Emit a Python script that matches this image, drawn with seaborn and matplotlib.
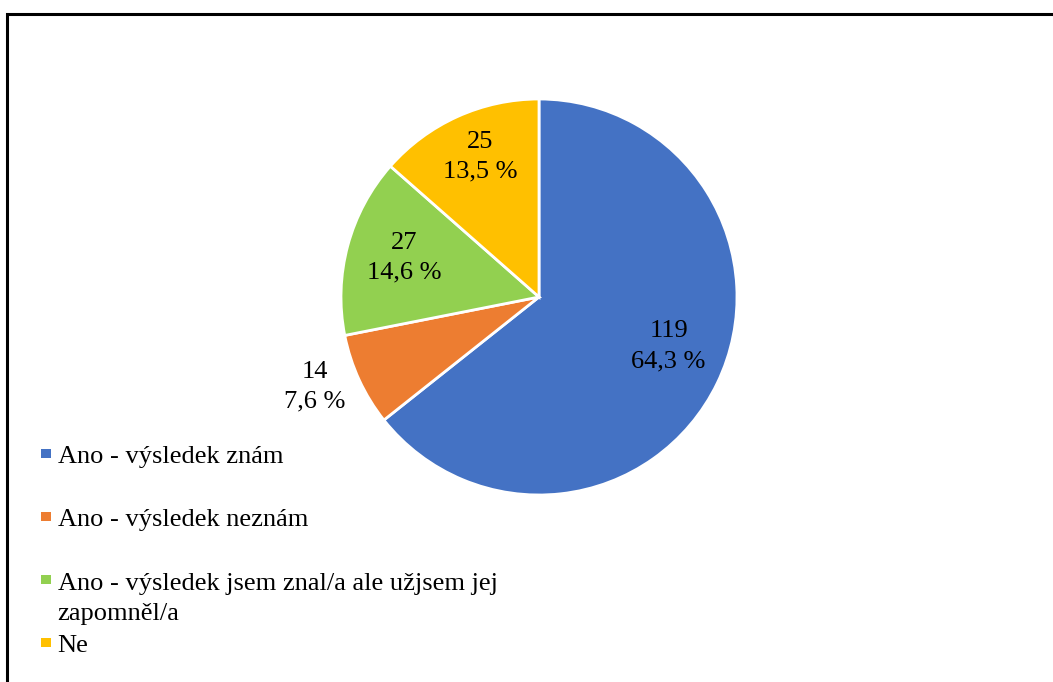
import numpy as np
import matplotlib
matplotlib.use("Agg")
import matplotlib.pyplot as plt
from matplotlib.patches import Rectangle
import seaborn as sns

categories = ["Ano - výsledek znám", "Ano - výsledek neznám",
              "Ano - výsledek jsem znal/a ale užjsem jej\nzapomněl/a", "Ne"]
counts = [119, 14, 27, 25]
percents = ["64,3 %", "7,6 %", "14,6 %", "13,5 %"]
colors = ["#4472C4", "#ED7D31", "#92D050", "#FFC000"]

sns.set_theme(style="white")
plt.rcParams['font.family'] = ['Liberation Serif', 'DejaVu Serif']

W, H = 1053, 682
fig = plt.figure(figsize=(W / 100, H / 100), dpi=100)
fig.patch.set_facecolor("white")

cx, cy, r = 539, 297, 198
ax = fig.add_axes([(cx - r) / W, (H - cy - r) / H, 2 * r / W, 2 * r / H])
wedges, _ = ax.pie(counts, colors=colors, startangle=90, counterclock=False,
                   wedgeprops=dict(edgecolor="white", linewidth=2))
ax.set_xlim(-1, 1)
ax.set_ylim(-1, 1)
ax.set_aspect("equal")
ax.axis("off")

label_dist = [0.70, 1.22, 0.71, 0.77]
angle_adj = [5, -3, -1, -1.5]
for w, n, p, d, da in zip(wedges, counts, percents, label_dist, angle_adj):
    th = np.deg2rad((w.theta1 + w.theta2) / 2 + da)
    ax.text(d * np.cos(th), d * np.sin(th), f"{n}\n{p}", ha="center", va="center",
            fontsize=19, color="black", linespacing=1.45, clip_on=False)

# legend (manual, Excel-like)
sq_centers = [453, 516, 579, 642.5]
line_px = 31
for c, lab, yc in zip(colors, categories, sq_centers):
    fig.add_artist(Rectangle((41 / W, (H - yc - 4.5) / H), 9.5 / W, 9 / H,
                             transform=fig.transFigure, facecolor=c, edgecolor="none"))
    nl = lab.count("\n")
    fig.text(57.5 / W, (H - yc - 9.7 - nl * line_px) / H, lab, ha="left", va="baseline",
             fontsize=19, color="black", linespacing=1.45)

# border
fig.add_artist(Rectangle((7 / W, -0.05), 1.2, (H - 14) / H + 0.05,
                         transform=fig.transFigure, facecolor="none",
                         edgecolor="black", linewidth=2.2, clip_on=False))

fig.savefig("out.png", dpi=100)
